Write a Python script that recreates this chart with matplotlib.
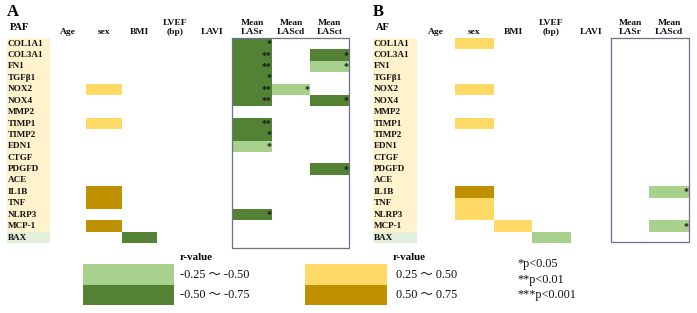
import matplotlib.pyplot as plt

## genes (rows) and clinical parameters (columns)
genes = ['COL1A1', 'COL3A1', 'FN1', 'TGFβ1', 'NOX2', 'NOX4', 'MMP2', 'TIMP1', 'TIMP2',
         'EDN1', 'CTGF', 'PDGFD', 'ACE', 'IL1B', 'TNF', 'NLRP3', 'MCP-1', 'BAX']
cols_paf = ['Age', 'sex', 'BMI', 'LVEF\n(bp)', 'LAVI', 'Mean\nLASr', 'Mean\nLAScd', 'Mean\nLASct']
cols_af = ['Age', 'sex', 'BMI', 'LVEF\n(bp)', 'LAVI', 'Mean\nLASr', 'Mean\nLAScd']

## r-value class: -2 = -0.50~-0.75, -1 = -0.25~-0.50, 1 = 0.25~0.50, 2 = 0.50~0.75
r_paf = [
    [0, 0, 0, 0, 0, -2, 0, 0],
    [0, 0, 0, 0, 0, -2, 0, -2],
    [0, 0, 0, 0, 0, -2, 0, -1],
    [0, 0, 0, 0, 0, -2, 0, 0],
    [0, 1, 0, 0, 0, -2, -1, 0],
    [0, 0, 0, 0, 0, -2, 0, -2],
    [0, 0, 0, 0, 0, 0, 0, 0],
    [0, 1, 0, 0, 0, -2, 0, 0],
    [0, 0, 0, 0, 0, -2, 0, 0],
    [0, 0, 0, 0, 0, -1, 0, 0],
    [0, 0, 0, 0, 0, 0, 0, 0],
    [0, 0, 0, 0, 0, 0, 0, -2],
    [0, 0, 0, 0, 0, 0, 0, 0],
    [0, 2, 0, 0, 0, 0, 0, 0],
    [0, 2, 0, 0, 0, 0, 0, 0],
    [0, 0, 0, 0, 0, -2, 0, 0],
    [0, 2, 0, 0, 0, 0, 0, 0],
    [0, 0, -2, 0, 0, 0, 0, 0],
]
## number of stars (only drawn inside the LAS box)
p_paf = [
    [0, 0, 0, 0, 0, 1, 0, 0],
    [0, 0, 0, 0, 0, 2, 0, 1],
    [0, 0, 0, 0, 0, 2, 0, 1],
    [0, 0, 0, 0, 0, 1, 0, 0],
    [0, 0, 0, 0, 0, 2, 1, 0],
    [0, 0, 0, 0, 0, 2, 0, 1],
    [0, 0, 0, 0, 0, 0, 0, 0],
    [0, 0, 0, 0, 0, 2, 0, 0],
    [0, 0, 0, 0, 0, 1, 0, 0],
    [0, 0, 0, 0, 0, 1, 0, 0],
    [0, 0, 0, 0, 0, 0, 0, 0],
    [0, 0, 0, 0, 0, 0, 0, 1],
    [0, 0, 0, 0, 0, 0, 0, 0],
    [0, 0, 0, 0, 0, 0, 0, 0],
    [0, 0, 0, 0, 0, 0, 0, 0],
    [0, 0, 0, 0, 0, 1, 0, 0],
    [0, 0, 0, 0, 0, 0, 0, 0],
    [0, 0, 0, 0, 0, 0, 0, 0],
]
r_af = [
    [0, 1, 0, 0, 0, 0, 0],
    [0, 0, 0, 0, 0, 0, 0],
    [0, 0, 0, 0, 0, 0, 0],
    [0, 0, 0, 0, 0, 0, 0],
    [0, 1, 0, 0, 0, 0, 0],
    [0, 0, 0, 0, 0, 0, 0],
    [0, 0, 0, 0, 0, 0, 0],
    [0, 1, 0, 0, 0, 0, 0],
    [0, 0, 0, 0, 0, 0, 0],
    [0, 0, 0, 0, 0, 0, 0],
    [0, 0, 0, 0, 0, 0, 0],
    [0, 0, 0, 0, 0, 0, 0],
    [0, 0, 0, 0, 0, 0, 0],
    [0, 2, 0, 0, 0, 0, -1],
    [0, 1, 0, 0, 0, 0, 0],
    [0, 1, 0, 0, 0, 0, 0],
    [0, 0, 1, 0, 0, 0, -1],
    [0, 0, 0, -1, 0, 0, 0],
]
p_af = [[0] * 7 for _ in range(18)]
p_af[13][6] = 1
p_af[16][6] = 1

r_bins = [-1, -2, 1, 2]
r_bin_labels = ['-0.25 ～ -0.50', '-0.50 ～ -0.75', '0.25 ～ 0.50', '0.50 ～ 0.75']
p_labels = ['*p<0.05', '**p<0.01', '***p<0.001']

## styles / layout (pixel units)
colors = {-1: '#a9d18e', -2: '#548235', 1: '#ffd966', 2: '#bf9000'}
serif = ['Liberation Serif', 'DejaVu Serif']
tilde_font = ['Liberation Serif', 'Noto Sans CJK JP', 'DejaVu Sans']
row_top, row_h = 38.0, 11.4

fig = plt.figure(figsize=(6.97, 3.13), dpi=100)
ax = fig.add_axes([0, 0, 1, 1])
ax.set_xlim(0, 697)
ax.set_ylim(313, 0)
ax.axis('off')


def draw_panel(letter, name, label_x, edges, cols, rvals, pvals, box_cols, box_bottom):
    n = len(genes)
    # label column background
    ax.bar(label_x - 1, row_h * (n - 1), width=edges[0] - label_x + 1, bottom=row_top,
           align='edge', color='#fff2cc', linewidth=0)
    ax.bar(label_x - 1, row_h, width=edges[0] - label_x + 1, bottom=row_top + row_h * (n - 1),
           align='edge', color='#e2efda', linewidth=0)
    for i, g in enumerate(genes):
        ax.text(label_x, row_top + row_h * (i + 0.5), g, fontsize=6.6, fontweight='bold',
                family=serif, va='center', ha='left', color='#111111')
    ax.text(label_x - 1, 12, letter, fontsize=12, fontweight='bold', family=serif,
            va='center', ha='left')
    ax.text(label_x + 2, 27.5, name, fontsize=7.5, fontweight='bold', family=serif,
            va='center', ha='left')
    for j, c in enumerate(cols):
        xc = (edges[j] + edges[j + 1]) / 2
        ax.text(xc, 35.5, c, fontsize=6.8, fontweight='bold', family=serif,
                ha='center', va='bottom', linespacing=1.15, color='#111111')
    for i in range(n):
        for j in range(len(cols)):
            r = rvals[i][j]
            if r == 0:
                continue
            ax.bar(edges[j], row_h, width=edges[j + 1] - edges[j], bottom=row_top + row_h * i,
                   align='edge', color=colors[r], linewidth=0)
            if pvals[i][j]:
                ax.text(edges[j + 1] - 0.5, row_top + row_h * i + row_h * 0.5, '*' * pvals[i][j],
                        fontsize=7, fontweight='bold', ha='right', va='center',
                        color='#1a1a1a', family=serif)
    x0, x1 = edges[box_cols[0]], edges[box_cols[1]]
    ax.plot([x0, x1, x1, x0, x0], [row_top - 0.5, row_top - 0.5, box_bottom, box_bottom, row_top - 0.5],
            color='#6f6f8f', linewidth=0.9)


draw_panel('A', 'PAF', 8, [50, 86, 122, 157, 193, 232, 272, 310, 349], cols_paf,
           r_paf, p_paf, (5, 8), 248)
draw_panel('B', 'AF', 374, [417, 455, 494, 532, 571, 611, 649, 689], cols_af,
           r_af, p_af, (5, 7), 242)

## legend
leg_boxes = [(83, 174), (83, 174), (305, 387), (305, 387)]
for k, (b, lab) in enumerate(zip(r_bins, r_bin_labels)):
    xl, xr = leg_boxes[k]
    top = 264 + 20.5 * (k % 2)
    ax.bar(xl, 20.5, width=xr - xl, bottom=top, align='edge', color=colors[b], linewidth=0)
    ax.text(xr + 6 + (3 if k >= 2 else 0), top + 10.5, lab, fontsize=8.8, family=tilde_font,
            va='center', ha='left', color='#111111')
ax.text(180, 257, 'r-value', fontsize=7.8, fontweight='bold', family=serif, va='center', ha='left')
ax.text(393, 257, 'r-value', fontsize=7.8, fontweight='bold', family=serif, va='center', ha='left')
for k, lab in enumerate(p_labels):
    ax.text(517, 264 + 15.5 * k, lab, fontsize=8.8, family=serif, va='center', ha='left',
            color='#111111')

fig.savefig('out.png', dpi=100)
